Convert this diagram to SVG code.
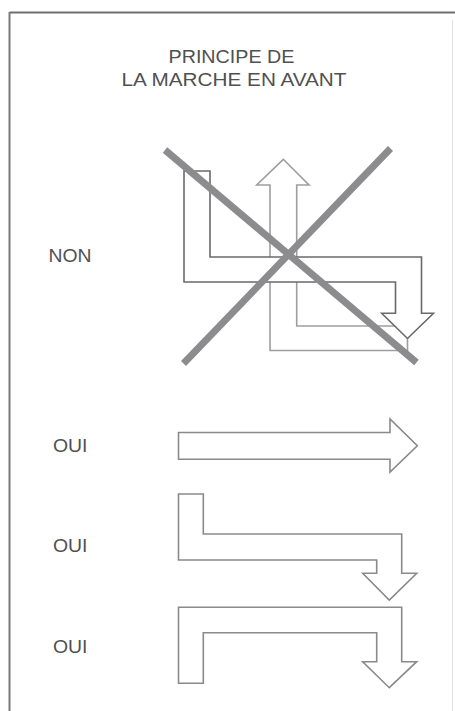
<svg xmlns="http://www.w3.org/2000/svg" width="455" height="711" viewBox="0 0 455 711">
<style>
.t{font-family:"Liberation Sans",Arial,sans-serif;fill:#505050;font-size:18.5px}
.dark{fill:#fff;stroke:#6a6a6a;stroke-width:1.6}
.light{fill:#fff;stroke:#9e9e9e;stroke-width:1.6}
.oui{fill:#fff;stroke:#8a8a8a;stroke-width:1.6}
.x{stroke:#8c8c8e;stroke-width:7;stroke-linecap:butt}
</style>
<rect width="455" height="711" fill="#fff"/>
<g id="frame">
<line x1="9.5" y1="12.5" x2="455" y2="12.5" stroke="#6e6e6e" stroke-width="2.2"/>
<line x1="9.5" y1="12" x2="9.5" y2="711" stroke="#7a7a7a" stroke-width="2"/>
<line x1="452.5" y1="20" x2="452.5" y2="711" stroke="#e2e2e2" stroke-width="1"/>
</g>
<g id="title">
<text class="t" x="168.5" y="63" textLength="126" lengthAdjust="spacingAndGlyphs">PRINCIPE DE</text>
<text class="t" x="121.5" y="85.5" textLength="225" lengthAdjust="spacingAndGlyphs">LA MARCHE EN AVANT</text>
</g>
<g id="labels">
<text class="t" x="48.5" y="262" textLength="43" lengthAdjust="spacingAndGlyphs">NON</text>
<text class="t" x="53" y="451.5" textLength="34.5" lengthAdjust="spacingAndGlyphs">OUI</text>
<text class="t" x="53" y="551.5" textLength="34.5" lengthAdjust="spacingAndGlyphs">OUI</text>
<text class="t" x="53" y="653" textLength="34.5" lengthAdjust="spacingAndGlyphs">OUI</text>
</g>
<g id="non-arrows">
<polygon id="non-up" class="light" points="270,350.5 270,185 256.7,185 283.3,159.3 309,185 296.7,185 296.7,326 407.5,326 407.5,350.5"/>
<polygon id="non-down" class="dark" points="184,171 210,171 210,257 421.5,257 421.5,313.3 433.5,313.3 407.5,338.5 381.7,313.3 395.5,313.3 395.5,282 184,282"/>
</g>
<g id="cross">
<line class="x" x1="165" y1="150" x2="416.5" y2="362.5"/>
<line class="x" x1="390.5" y1="148.5" x2="183.5" y2="363.5"/>
</g>
<g id="oui-1">
<polygon class="oui" points="178.5,432.5 390,432.5 390,419 417.3,445.8 390,472 390,459.3 178.5,459.3"/>
</g>
<g id="oui-2">
<polygon class="oui" points="178.5,494 203.3,494 203.3,534 401.7,534 401.7,573.3 416.7,573.3 389.3,600 362.7,573.3 376.7,573.3 376.7,560 178.5,560"/>
</g>
<g id="oui-3">
<polygon class="oui" points="178.5,607.3 401.7,607.3 401.7,661.7 416.7,661.7 389.3,687.7 362.7,661.7 376.7,661.7 376.7,632.7 203.3,632.7 203.3,683.3 178.5,683.3"/>
</g>
</svg>
